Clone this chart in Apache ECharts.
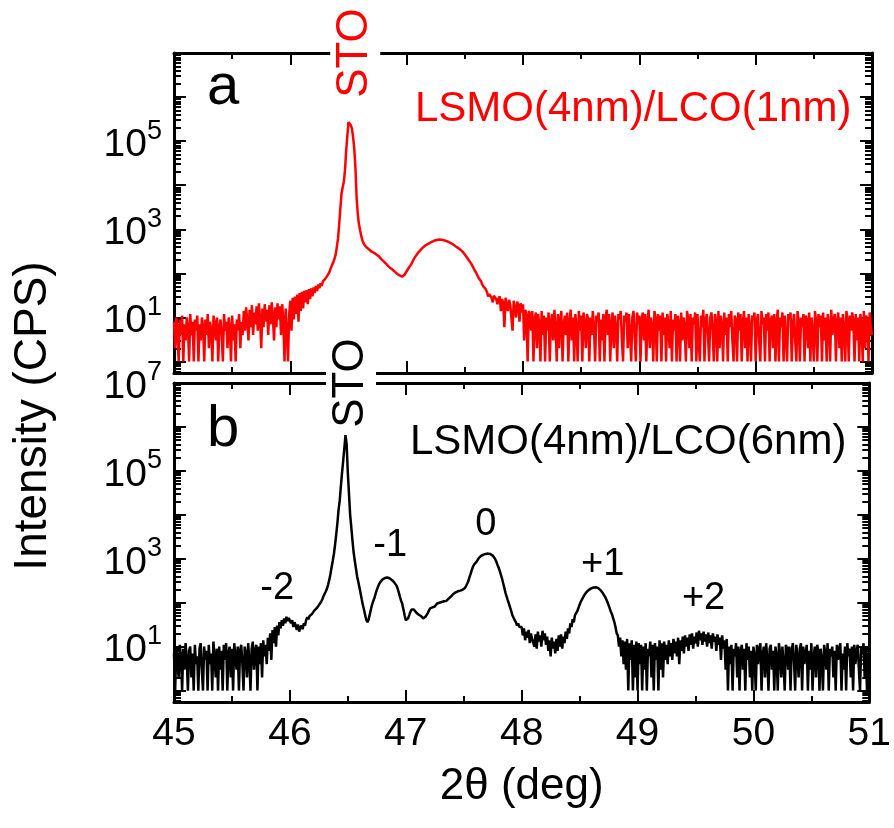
<!DOCTYPE html>
<html>
<head>
<meta charset="utf-8">
<title>XRD 2θ scans, LSMO/LCO bilayers</title>
<script src="https://cdn.jsdelivr.net/npm/echarts@6/dist/echarts.min.js"></script>
<style>
  html, body { margin: 0; padding: 0; background: #ffffff; }
  #chart { width: 894px; height: 828px; }
</style>
</head>
<body>
<div id="chart"></div>
<script>
// 2θ scan sampling (deg)
const TWO_THETA_MIN = 45;
const TWO_THETA_MAX = 51;
const TWO_THETA_STEP = 0.01;

// Sample names
const sampleA = 'LSMO(4nm)/LCO(1nm)';
const sampleB = 'LSMO(4nm)/LCO(6nm)';

// Intensity (CPS), one value per 0.01 deg starting at 45.00 (one row = 0.1 deg)
const intensityA = [
  8, 2, 10, 5, 1, 9, 4, 11, 1, 7,
  3, 10, 6, 1, 12, 4, 8, 1, 9, 5,
  11, 1, 7, 3, 10, 6, 1, 9, 4, 12,
  2, 8, 5, 1, 11, 7, 3, 10, 1, 6,
  9, 4, 1, 12, 5, 8, 2, 10, 6, 1,
  11, 3, 7, 1, 9, 5, 12, 2, 8, 4,
  14, 5, 17, 8, 3, 15, 6, 19, 4, 13,
  7, 18, 5, 21, 9, 2, 16, 6, 20, 8,
  15, 4, 19, 7, 22, 10, 3, 17, 6, 21,
  9, 18, 4, 20, 8, 1, 16, 5, 1, 12,
  24, 5, 28, 9, 30, 12, 33, 8, 36, 14,
  38, 16, 40, 22, 42, 20, 44, 26, 46, 30,
  48, 36, 52, 40, 56, 46, 60, 52, 66, 62,
  75, 82, 90, 100, 115, 135, 158, 180, 215, 270,
  400, 620, 1300, 3000, 6500, 9000, 12000, 22000, 60000, 130000,
  270000, 280000, 230000, 190000, 120000, 66000, 24000, 5000, 2200, 1300,
  950, 700, 560, 480, 430, 400, 380, 360, 345, 330,
  310, 300, 292, 280, 268, 258, 246, 232, 214, 204,
  190, 178, 168, 156, 148, 140, 132, 126, 121, 114,
  108, 102, 97, 93, 90, 86, 84, 86, 92, 100,
  112, 124, 136, 148, 162, 184, 208, 230, 252, 274,
  298, 320, 342, 364, 388, 408, 428, 446, 462, 478,
  492, 510, 528, 542, 556, 564, 572, 580, 586, 584,
  580, 574, 566, 556, 544, 530, 516, 502, 486, 470,
  452, 432, 412, 396, 380, 364, 348, 330, 312, 290,
  268, 246, 226, 208, 190, 174, 158, 140, 124, 112,
  100, 88, 78, 72, 66, 56, 50, 46, 44, 38,
  30, 34, 36, 28, 22, 31, 32, 26, 20, 27,
  30, 14, 26, 22, 6, 28, 18, 14, 25, 20,
  22, 5, 24, 16, 10, 23, 19, 8, 21, 13,
  20, 3, 15, 11, 1, 14, 12, 5, 14, 1,
  9, 13, 2, 12, 7, 1, 14, 4, 11, 1,
  10, 5, 13, 1, 8, 12, 3, 15, 6, 1,
  12, 2, 9, 14, 1, 7, 11, 4, 13, 1,
  8, 15, 3, 10, 1, 12, 6, 1, 14, 5,
  11, 1, 13, 7, 2, 12, 9, 1, 10, 4,
  14, 6, 1, 11, 8, 13, 1, 9, 3, 12,
  1, 10, 15, 4, 12, 1, 7, 13, 2, 11,
  6, 1, 12, 9, 14, 3, 1, 11, 8, 13,
  2, 12, 5, 1, 10, 14, 4, 1, 13, 7,
  11, 1, 9, 13, 3, 12, 1, 8, 15, 2,
  10, 6, 1, 14, 9, 1, 12, 5, 11, 1,
  13, 4, 10, 1, 12, 7, 2, 14, 1, 9,
  5, 12, 1, 11, 8, 1, 13, 3, 10, 6,
  1, 14, 9, 2, 12, 1, 10, 7, 13, 1,
  12, 3, 1, 11, 6, 15, 1, 9, 12, 4,
  1, 10, 13, 5, 1, 12, 8, 1, 14, 2,
  11, 7, 1, 13, 4, 10, 1, 12, 6, 14,
  3, 1, 11, 9, 1, 13, 5, 12, 1, 8,
  14, 2, 10, 1, 12, 6, 1, 11, 9, 13,
  1, 8, 12, 3, 1, 14, 7, 10, 1, 12,
  5, 13, 1, 9, 11, 2, 12, 1, 8, 15,
  1, 10, 6, 13, 1, 11, 4, 1, 12, 9,
  13, 1, 7, 12, 3, 1, 14, 8, 1, 10,
  6, 12, 1, 11, 9, 2, 13, 1, 10, 5,
  1, 14, 8, 1, 12, 6, 11, 1, 13, 3,
  10, 1, 12, 7, 1, 15, 4, 9, 12, 1,
  8, 13, 2, 10, 1, 12, 6, 1, 14, 9,
  1, 11, 5, 13, 8, 1, 12, 3, 10, 1,
  12, 7, 1, 14, 2, 11, 9, 1, 13, 6,
  4
];

const intensityB = [
  7, 1, 10, 4, 2, 11, 6, 1, 9, 3,
  12, 5, 1, 8, 10, 2, 7, 1, 11, 4,
  6, 1, 9, 12, 3, 1, 10, 5, 8, 1,
  11, 4, 7, 1, 13, 6, 2, 9, 1, 10,
  3, 8, 1, 11, 5, 12, 1, 7, 10, 2,
  9, 1, 12, 6, 3, 10, 1, 8, 11, 4,
  1, 10, 7, 2, 12, 5, 1, 9, 13, 3,
  8, 11, 1, 10, 4, 12, 2, 14, 6, 11,
  4, 16, 8, 20, 5, 24, 12, 28, 10, 30,
  18, 36, 26, 40, 30, 44, 34, 48, 38, 45,
  42, 34, 40, 28, 36, 30, 24, 32, 22, 27,
  30, 25, 34, 30, 40, 47, 42, 50, 46, 55,
  60, 66, 62, 74, 80, 88, 94, 105, 120, 140,
  160, 180, 210, 260, 330, 450, 640, 900, 1300, 2100,
  3600, 6500, 13000, 21000, 45000, 90000, 170000, 330000, 650000, 400000,
  90000, 30000, 10000, 5200, 2600, 1400, 900, 600, 400, 300,
  225, 165, 120, 88, 68, 52, 40, 36, 42, 55,
  72, 92, 110, 130, 160, 195, 230, 265, 295, 325,
  340, 355, 365, 372, 375, 370, 360, 345, 330, 310,
  290, 270, 245, 210, 170, 135, 110, 94, 70, 52,
  40, 38, 44, 52, 62, 70, 74, 70, 64, 60,
  56, 54, 58, 50, 46, 44, 42, 48, 52, 58,
  66, 74, 80, 78, 86, 82, 90, 96, 94, 100,
  98, 104, 100, 108, 112, 110, 118, 124, 130, 138,
  150, 158, 165, 172, 178, 182, 185, 188, 192, 196,
  200, 215, 240, 270, 310, 380, 460, 560, 660, 740,
  760, 850, 940, 1030, 1100, 1160, 1200, 1240, 1270, 1290,
  1300, 1310, 1300, 1280, 1240, 1180, 1100, 1000, 880, 740,
  640, 540, 440, 360, 280, 220, 170, 140, 115, 95,
  78, 64, 52, 47, 40, 36, 30, 34, 28, 31,
  28, 18, 26, 14, 22, 16, 24, 12, 20, 15,
  16, 10, 19, 9, 22, 13, 18, 10, 23, 14,
  20, 11, 17, 8, 14, 6, 16, 9, 13, 7,
  15, 8, 18, 10, 19, 9, 17, 12, 22, 15,
  26, 20, 34, 28, 42, 36, 52, 48, 64, 76,
  90, 105, 118, 132, 148, 162, 175, 186, 196, 206,
  212, 218, 222, 224, 225, 222, 216, 206, 194, 180,
  166, 150, 136, 120, 104, 88, 74, 62, 54, 44,
  36, 28, 20, 18, 10, 16, 6, 14, 4, 13,
  3, 15, 1, 12, 5, 14, 1, 11, 2, 13,
  1, 12, 4, 11, 1, 10, 3, 12, 1, 9,
  6, 13, 2, 11, 1, 12, 5, 10, 1, 14,
  3, 12, 2, 13, 5, 11, 4, 14, 6, 12,
  5, 15, 7, 13, 6, 16, 4, 14, 8, 17,
  7, 18, 10, 16, 8, 19, 11, 20, 9, 17,
  12, 21, 10, 23, 14, 20, 11, 22, 13, 19,
  10, 21, 12, 18, 9, 20, 13, 17, 8, 19,
  11, 16, 5, 18, 9, 14, 3, 15, 1, 10,
  4, 11, 1, 9, 6, 12, 2, 10, 1, 8,
  11, 3, 9, 1, 12, 5, 10, 2, 8, 1,
  10, 6, 1, 11, 4, 9, 12, 1, 7, 10,
  2, 12, 5, 1, 9, 11, 3, 8, 1, 10,
  6, 1, 12, 7, 2, 10, 4, 1, 11, 9,
  3, 10, 1, 8, 12, 5, 1, 11, 6, 2,
  9, 12, 1, 10, 4, 7, 11, 1, 8, 3,
  12, 1, 6, 10, 2, 11, 8, 1, 9, 5,
  1, 11, 7, 3, 12, 1, 9, 6, 10, 2,
  8, 1, 11, 5, 9, 12, 1, 7, 3, 10,
  1, 12, 6, 9, 2, 10, 1, 11, 4, 8,
  11, 3, 1, 10, 7, 12, 2, 9, 1, 6,
  9
];

// Log-axis tick labels (CPS)
const yLabelsA = [1e1, 1e3, 1e5];
const yLabelsB = [1e1, 1e3, 1e5, 1e7];

// Log-axis range (CPS)
const Y_MIN = 0.55;
const Y_MAX = 1e7;

// Superlattice satellite orders of sample b, anchored at [2θ, CPS]
const satelliteLabels = [
  { name: '-2', coord: [45.89, 214] },
  { name: '-1', coord: [46.865, 2000] },
  { name: '0',  coord: [47.69, 5900] },
  { name: '+1', coord: [48.70, 725] },
  { name: '+2', coord: [49.57, 126] }
];

const FONT = '"Liberation Sans", Arial, Helvetica, sans-serif';

function toPairs(values) {
  return values.map((v, i) => [+(TWO_THETA_MIN + i * TWO_THETA_STEP).toFixed(2), v]);
}

// decade ticks and 2..9 sub-decade ticks on the log axes
const decadeTicks = [];
const subDecadeTicks = [];
for (let e = -1; e <= 7; e++) {
  const base = Math.pow(10, e);
  if (e >= 0) decadeTicks.push(base);
  for (let m = 2; m <= 9; m++) {
    const v = +(m * base).toPrecision(3);
    if (v >= Y_MIN && v <= Y_MAX) subDecadeTicks.push(v);
  }
}

function powerLabel(v) {
  return '{m|10}{e|' + Math.round(Math.log10(v)) + '}';
}

const axisLineStyle = { color: '#000', width: 3 };

function xAxesFor(gridIndex, withLabels, name) {
  const common = {
    type: 'value',
    gridIndex: gridIndex,
    min: TWO_THETA_MIN,
    max: TWO_THETA_MAX,
    interval: 1,
    splitLine: { show: false },
    minorSplitLine: { show: false },
    axisLine: { show: true, onZero: false, lineStyle: axisLineStyle },
    axisTick: { show: true, inside: true, length: 12, lineStyle: { color: '#000', width: 2 } },
    minorTick: { show: true, splitNumber: 2, length: 6, lineStyle: { color: '#000', width: 2 } }
  };
  const bottom = Object.assign({}, common, {
    position: 'bottom',
    axisLabel: {
      show: withLabels, fontSize: 39, fontFamily: FONT, color: '#000', margin: 13
    }
  });
  if (name) {
    Object.assign(bottom, {
      name: name,
      nameLocation: 'middle',
      nameGap: 85,
      nameTextStyle: { fontSize: 44, fontFamily: FONT, color: '#000', verticalAlign: 'middle' }
    });
  }
  const top = Object.assign({}, common, {
    position: 'top',
    axisLabel: { show: false }
  });
  return [bottom, top];
}

function yAxesFor(gridIndex, labelValues) {
  const base = {
    type: 'log',
    logBase: 10,
    gridIndex: gridIndex,
    min: Y_MIN,
    max: Y_MAX,
    splitLine: { show: false },
    minorTick: { show: false }
  };
  const major = (position, withLabels) => Object.assign({}, base, {
    position: position,
    axisLine: { show: true, onZero: false, lineStyle: axisLineStyle },
    axisTick: {
      show: true, inside: true, length: 12,
      lineStyle: { color: '#000', width: 2 },
      customValues: decadeTicks
    },
    axisLabel: withLabels ? {
      show: true,
      margin: 12,
      customValues: labelValues,
      formatter: powerLabel,
      rich: {
        m: { fontSize: 39, fontFamily: FONT, color: '#000', verticalAlign: 'bottom', padding: [8, 0, 0, 0] },
        e: { fontSize: 27, fontFamily: FONT, color: '#000', verticalAlign: 'top' }
      }
    } : { show: false }
  });
  const minor = (position) => Object.assign({}, base, {
    position: position,
    axisLine: { show: false, onZero: false },
    axisTick: {
      show: true, inside: true, length: 7,
      lineStyle: { color: '#000', width: 2 },
      customValues: subDecadeTicks
    },
    axisLabel: { show: false }
  });
  return [major('left', true), minor('left'), major('right', false), minor('right')];
}

function peakTag(text, coord, color) {
  return {
    name: text,
    coord: coord,
    label: {
      show: true,
      rotate: 90,
      fontSize: 44,
      fontFamily: FONT,
      color: color,
      backgroundColor: '#ffffff',
      padding: [3, 4, 3, 4],
      offset: [0, -2]
    }
  };
}

const chart = echarts.init(document.getElementById('chart'), null, { renderer: 'canvas' });

chart.setOption({
  animation: false,
  backgroundColor: '#ffffff',
  grid: [
    { left: 174, top: 53, width: 698, height: 320 },
    { left: 174, top: 383, width: 698, height: 319 }
  ],
  xAxis: [].concat(
    xAxesFor(0, false, null),
    xAxesFor(1, true, '2θ (deg)')
  ),
  yAxis: [].concat(
    yAxesFor(0, yLabelsA),
    yAxesFor(1, yLabelsB)
  ),
  series: [
    {
      name: sampleA,
      type: 'line',
      xAxisIndex: 0,
      yAxisIndex: 0,
      data: toPairs(intensityA),
      showSymbol: false,
      silent: true,
      lineStyle: { color: '#ff0000', width: 2.5 },
      itemStyle: { color: '#ff0000' },
      markPoint: {
        symbol: 'rect',
        symbolSize: 1,
        silent: true,
        itemStyle: { color: 'rgba(0,0,0,0)' },
        label: { formatter: '{b}' },
        data: [peakTag('STO', [46.575, Y_MAX], '#ff0000')]
      }
    },
    {
      name: sampleB,
      type: 'line',
      xAxisIndex: 2,
      yAxisIndex: 4,
      data: toPairs(intensityB),
      showSymbol: false,
      silent: true,
      lineStyle: { color: '#000000', width: 2.5 },
      itemStyle: { color: '#000000' },
      markPoint: {
        symbol: 'rect',
        symbolSize: 1,
        silent: true,
        itemStyle: { color: 'rgba(0,0,0,0)' },
        label: {
          show: true,
          position: 'inside',
          formatter: '{b}',
          fontSize: 38,
          fontFamily: FONT,
          color: '#000'
        },
        data: satelliteLabels.map(s => ({ name: s.name, coord: s.coord }))
          .concat([peakTag('STO', [46.545, Y_MAX], '#000000')])
      }
    }
  ],
  graphic: [
    {
      type: 'text', x: 207, y: 88, silent: true,
      style: { text: 'a', fontSize: 58, fontFamily: FONT, fill: '#000', align: 'left', verticalAlign: 'middle' }
    },
    {
      type: 'text', x: 207, y: 430, silent: true,
      style: { text: 'b', fontSize: 58, fontFamily: FONT, fill: '#000', align: 'left', verticalAlign: 'middle' }
    },
    {
      type: 'text', x: 415, y: 109, silent: true,
      style: { text: sampleA, fontSize: 42, fontFamily: FONT, fill: '#ff0000', align: 'left', verticalAlign: 'middle' }
    },
    {
      type: 'text', x: 410, y: 442, silent: true,
      style: { text: sampleB, fontSize: 42, fontFamily: FONT, fill: '#000', align: 'left', verticalAlign: 'middle' }
    },
    {
      type: 'text', x: 33, y: 416, rotation: Math.PI / 2, silent: true,
      style: { text: 'Intensity (CPS)', fontSize: 46, fontFamily: FONT, fill: '#000', align: 'center', verticalAlign: 'middle' }
    }
  ]
});
</script>
</body>
</html>
